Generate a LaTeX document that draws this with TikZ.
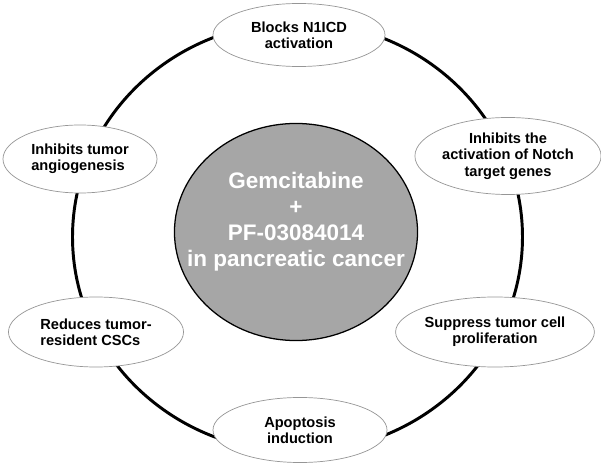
\documentclass[tikz,border=0pt]{standalone}
\usepackage{fontspec}
\setmainfont{Liberation Sans}
\usepackage{xcolor}
\usepackage{tikz}
\usetikzlibrary{shapes.geometric, positioning, calc}

\definecolor{hubgrey}{RGB}{166,166,166}
\definecolor{rimgrey}{RGB}{150,150,150}

\begin{document}
\begin{tikzpicture}[x=0.025cm,y=-0.025cm,
  effect/.style={ellipse, draw=rimgrey, line width=0.5pt, fill=white, inner sep=0pt,
    font=\fontsize{10.4}{11.6}\selectfont\bfseries, align=center},
  hub/.style={ellipse, draw=black, line width=0.9pt, fill=hubgrey, inner sep=0pt,
    minimum width=6.075cm, minimum height=5.425cm}]
\useasboundingbox (0,0) rectangle (601,466);
% outer ring
\draw[line width=2.1pt] (297.5,237) ellipse [x radius=225, y radius=215];

% centre: the combination
\node[hub] (drug) at (296,232) {};
\node[font=\fontsize{16}{18.5}\selectfont\bfseries, text=white, align=center]
  (drugtext) at (296,222) {Gemcitabine\\+\\PF-03084014\\in pancreatic cancer};

% effects round the ring
\node[effect, minimum width=4.3cm, minimum height=1.575cm] (nicd) at (299,35)
  {Blocks N1ICD\\activation};
\node[effect, minimum width=4.4cm, minimum height=1.925cm] (notch) at (508,156)
  {Inhibits the\\activation of Notch\\target genes};
\node[effect, minimum width=4.5cm, minimum height=1.75cm] (prolif) at (495,332)
  {Suppress tumor cell\\proliferation};
\node[effect, minimum width=4.35cm, minimum height=1.625cm] (apop) at (300,430)
  {Apoptosis\\induction};
\node[effect, minimum width=4.375cm, minimum height=1.75cm, align=left] (cscs) at (96,332)
  {Reduces tumor-\\resident CSCs};
\node[effect, minimum width=3.85cm, minimum height=1.7cm, align=left] (angio) at (80,159)
  {Inhibits tumor\\angiogenesis};
\end{tikzpicture}
\end{document}
